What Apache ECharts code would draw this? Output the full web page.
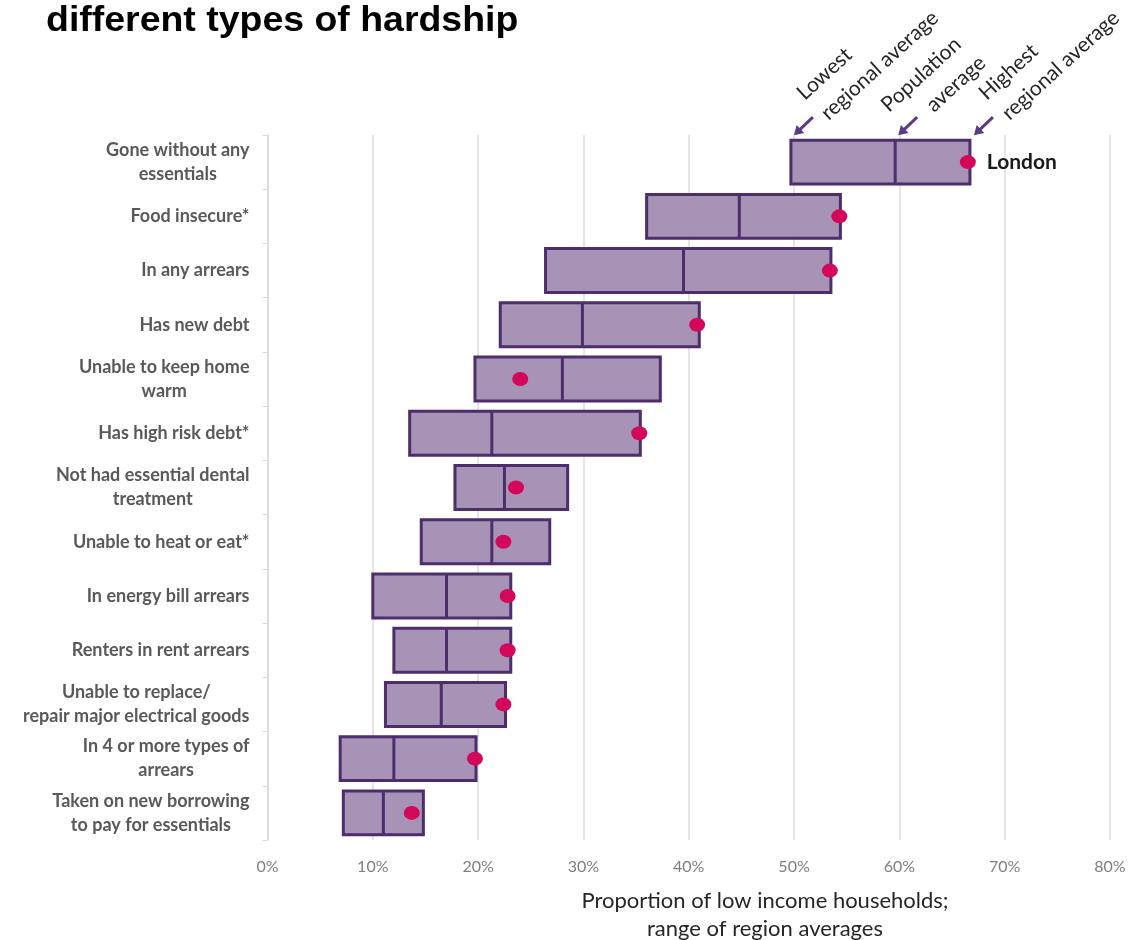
<!DOCTYPE html>
<html>
<head>
<meta charset="utf-8">
<script src="https://cdn.jsdelivr.net/npm/echarts@6/dist/echarts.min.js"></script>
<style>
html,body{margin:0;padding:0;background:#fff;}
#chart{width:1139px;height:940px;}
</style>
</head>
<body>
<div id="chart"></div>
<script>
// ---- data ----
var categories = [
  "Gone without any\nessentials",
  "Food insecure*",
  "In any arrears",
  "Has new debt",
  "Unable to keep home\nwarm",
  "Has high risk debt*",
  "Not had essential dental\ntreatment",
  "Unable to heat or eat*",
  "In energy bill arrears",
  "Renters in rent arrears",
  "Unable to replace/\nrepair major electrical goods",
  "In 4 or more types of\narrears",
  "Taken on new borrowing\nto pay for essentials"
];
var lowestRegional  = [49.7, 36.0, 26.4, 22.1, 19.7, 13.5, 17.8, 14.6, 10.0, 12.0, 11.2, 6.9, 7.2];
var populationAvg   = [59.6, 44.8, 39.5, 29.9, 28.0, 21.3, 22.5, 21.3, 17.0, 17.0, 16.5, 12.0, 11.0];
var highestRegional = [66.7, 54.4, 53.5, 41.0, 37.3, 35.4, 28.5, 26.8, 23.1, 23.1, 22.6, 19.8, 14.8];
var london          = [66.5, 54.3, 53.4, 40.8, 24.0, 35.3, 23.6, 22.4, 22.8, 22.8, 22.4, 19.7, 13.7];
var xTicks = [0, 10, 20, 30, 40, 50, 60, 70, 80];

var FILL = '#a693b6', STROKE = '#4d2d6c', DOT = '#d4085a', ARROW = '#5c3b86';
var FONT = 'Lato, "Open Sans", sans-serif';

var rangeData = categories.map(function (c, i) {
  return [lowestRegional[i], populationAvg[i], highestRegional[i], i];
});
var londonData = categories.map(function (c, i) { return [london[i], i]; });

var chart = echarts.init(document.getElementById('chart'));
var option = {
  animation: false,
  backgroundColor: '#ffffff',
  grid: { left: 267.5, right: 29, top: 135, bottom: 100, containLabel: false },
  xAxis: {
    type: 'value', min: xTicks[0], max: xTicks[xTicks.length - 1], interval: 10,
    axisLine: { show: false }, axisTick: { show: false },
    splitLine: { show: true, lineStyle: { color: '#dcdcdc', width: 1.5 } },
    axisLabel: { formatter: '{value}%', color: '#7f7f7f', fontFamily: FONT, fontSize: 16, margin: 19 }
  },
  yAxis: {
    type: 'category', inverse: true, data: categories,
    axisLine: { show: true, lineStyle: { color: '#d9d9d9', width: 1.5 } },
    axisTick: { show: true, length: 5, lineStyle: { color: '#d9d9d9' } },
    axisLabel: {
      margin: 18, align: 'right',
      formatter: function (v) {
        return v.split('\n').map(function (l) { return '{c|' + l + '}'; }).join('\n');
      },
      rich: { c: { align: 'center', fontFamily: FONT, fontWeight: 'bold', fontSize: 18, color: '#595959', lineHeight: 24 } }
    }
  },
  series: [
    {
      type: 'custom', name: 'range',
      encode: { x: [0, 1, 2], y: 3 },
      data: rangeData,
      renderItem: function (params, api) {
        var lo = api.coord([api.value(0), api.value(3)]);
        var mid = api.coord([api.value(1), api.value(3)]);
        var hi = api.coord([api.value(2), api.value(3)]);
        var h = api.size([0, 1])[1] * 0.81;
        var top = lo[1] - h / 2;
        return {
          type: 'group',
          children: [
            { type: 'rect', shape: { x: lo[0], y: top, width: hi[0] - lo[0], height: h },
              style: { fill: FILL, stroke: STROKE, lineWidth: 3 } },
            { type: 'line', shape: { x1: mid[0], y1: top, x2: mid[0], y2: top + h },
              style: { stroke: STROKE, lineWidth: 3 } }
          ]
        };
      },
      z: 2
    },
    {
      type: 'scatter', name: 'London', data: londonData,
      symbol: 'circle', symbolSize: [16, 14],
      itemStyle: { color: DOT, opacity: 1 },
      label: {
        show: true, position: 'right', distance: 11,
        formatter: function (p) { return p.dataIndex === 0 ? 'London' : ''; },
        fontFamily: FONT, fontWeight: 'bold', fontSize: 21, color: '#1a1a1a'
      },
      z: 3
    }
  ]
};
chart.setOption(option);

// ---- annotations positioned from the first row's data ----
function px(v, idx) { return chart.convertToPixel({ gridIndex: 0 }, [v, idx]); }
var c0 = px(0, 0), c1 = px(0, 1);
var band = c1[1] - c0[1];
var barTop = c0[1] - band * 0.81 / 2;
var ang = 0.74;
var tips = [
  [px(lowestRegional[0], 0)[0] + 3, barTop - 5],
  [px(populationAvg[0], 0)[0] + 3, barTop - 5],
  [px(highestRegional[0], 0)[0] + 4, barTop - 5]
];
var texts = [
  [['Lowest', 10, -35], ['regional average', 34, -15]],
  [['Population', -10, -23], ['average', 35, -23]],
  [['Highest', 12, -35], ['regional average', 35, -15]]
];
var elements = [];
tips.forEach(function (t, k) {
  var tail = [t[0] + 19, t[1] - 18];
  var dx = t[0] - tail[0], dy = t[1] - tail[1];
  var L = Math.sqrt(dx * dx + dy * dy); dx /= L; dy /= L;
  var nx = -dy, ny = dx;
  var hl = 9, hw = 5.5;
  var base = [t[0] - dx * hl, t[1] - dy * hl];
  elements.push({ type: 'line', shape: { x1: tail[0], y1: tail[1], x2: base[0] + dx * 2, y2: base[1] + dy * 2 },
    style: { stroke: ARROW, lineWidth: 3 }, z: 10 });
  elements.push({ type: 'polygon', shape: { points: [t, [base[0] + nx * hw, base[1] + ny * hw], [base[0] - nx * hw, base[1] - ny * hw]] },
    style: { fill: ARROW }, z: 10 });
  texts[k].forEach(function (tt) {
    elements.push({ type: 'text', x: t[0] + tt[1], y: t[1] + tt[2], rotation: ang,
      style: { text: tt[0], x: 0, y: 5, align: 'left', verticalAlign: 'bottom',
        font: '21px ' + FONT, fill: '#262626' }, z: 10 });
  });
});
// chart title (top line of a two-line heading, cropped)
elements.push({ type: 'text', x: 46, y: 21, scaleX: 1.07, style: { text: 'different types of hardship', align: 'left', verticalAlign: 'middle',
  font: 'bold 35px "Liberation Sans", Arial, sans-serif', fill: '#000' } });
// axis title
var cx = 765;
elements.push({ type: 'text', x: cx, y: 901, style: { text: 'Proportion of low income households;', align: 'center', verticalAlign: 'middle', font: '22px ' + FONT, fill: '#262626' } });
elements.push({ type: 'text', x: cx, y: 929, style: { text: 'range of region averages', align: 'center', verticalAlign: 'middle', font: '22px ' + FONT, fill: '#262626' } });
chart.setOption({ graphic: { elements: elements } });
</script>
</body>
</html>
